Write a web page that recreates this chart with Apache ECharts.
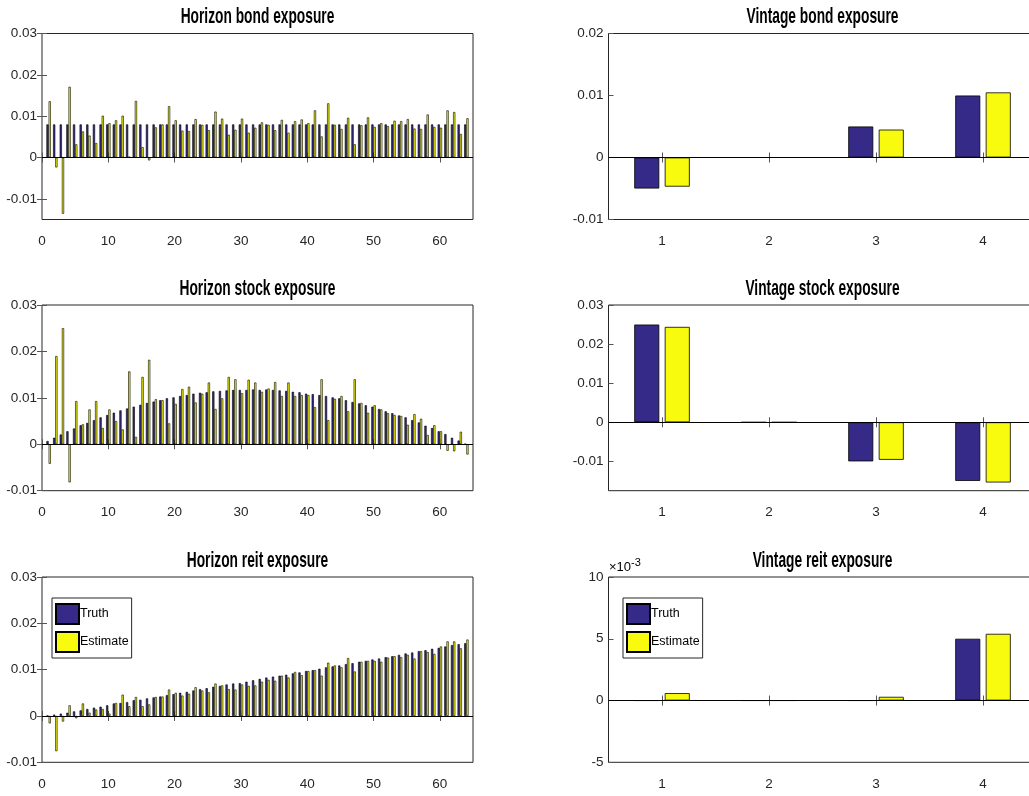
<!DOCTYPE html>
<html><head><meta charset="utf-8">
<script src="https://cdn.jsdelivr.net/npm/echarts@6/dist/echarts.min.js"></script>
<style>html,body{margin:0;padding:0;background:#fff}#c{width:1029px;height:796px}</style>
</head><body><div id="c"></div>
<script>
// ---------------- data ----------------
const horizonIdx = [1,2,3,4,5,6,7,8,9,10,11,12,13,14,15,16,17,18,19,20,21,22,23,24,25,26,27,28,29,30,31,32,33,34,35,36,37,38,39,40,41,42,43,44,45,46,47,48,49,50,51,52,53,54,55,56,57,58,59,60,61,62,63,64];
const horizonTicks = [0,10,20,30,40,50,60];

const bondTruth = [0.008,0.008,0.008,0.008,0.008,0.008,0.008,0.008,0.008,0.008,0.008,0.008,0.008,0.008,0.008,0.008,0.008,0.008,0.008,0.008,0.008,0.008,0.008,0.008,0.008,0.008,0.008,0.008,0.008,0.008,0.008,0.008,0.008,0.008,0.008,0.008,0.008,0.008,0.008,0.008,0.008,0.008,0.008,0.008,0.008,0.008,0.008,0.008,0.008,0.008,0.008,0.008,0.008,0.008,0.008,0.008,0.008,0.008,0.008,0.008,0.008,0.008,0.008,0.008];
const bondEst = [0.0136,-0.0024,-0.0136,0.0171,0.0032,0.0063,0.0053,0.0035,0.0101,0.0083,0.009,0.0101,0.0002,0.0137,0.0025,-0.0007,0.0073,0.008,0.0124,0.009,0.0065,0.0064,0.0093,0.0079,0.0066,0.0111,0.0094,0.0055,0.0067,0.0094,0.006,0.0072,0.0085,0.0079,0.0066,0.0091,0.006,0.0088,0.0092,0.0083,0.0114,0.0051,0.0131,0.0079,0.0069,0.0096,0.0032,0.0078,0.0097,0.0074,0.0083,0.0076,0.0089,0.0088,0.0093,0.007,0.0069,0.0104,0.0074,0.0072,0.0114,0.011,0.0057,0.0095];

const stockTruth = [0.0007,0.0014,0.0021,0.0028,0.0034,0.0041,0.0046,0.0052,0.0058,0.0063,0.0068,0.0073,0.0077,0.0081,0.0085,0.0089,0.0092,0.0095,0.0099,0.0101,0.0104,0.0106,0.0109,0.0111,0.0112,0.0114,0.0115,0.0116,0.0117,0.0117,0.0117,0.0118,0.0117,0.0118,0.0117,0.0116,0.0115,0.0113,0.0112,0.0109,0.0108,0.0106,0.0104,0.0101,0.0099,0.0095,0.0091,0.0088,0.0084,0.0081,0.0076,0.0071,0.0067,0.0062,0.0058,0.0052,0.0047,0.004,0.0035,0.0028,0.0022,0.0014,0.0008,0.0001];
const stockEst = [-0.0042,0.019,0.025,-0.0082,0.0093,0.0043,0.0075,0.0093,0.0035,0.0075,0.005,0.0032,0.0157,0.0016,0.0145,0.0182,0.0097,0.0095,0.0045,0.0087,0.0119,0.0124,0.009,0.0109,0.0133,0.0076,0.0099,0.0145,0.014,0.011,0.0139,0.0133,0.0113,0.012,0.0134,0.0104,0.0133,0.0104,0.0106,0.0106,0.008,0.014,0.0052,0.0098,0.0104,0.0071,0.014,0.0089,0.0068,0.0084,0.0075,0.0067,0.0063,0.0061,0.0042,0.0065,0.0055,0.002,0.0041,0.0028,-0.0014,-0.0015,0.0027,-0.0022];

const reitTruth = [0.0001,0.0003,0.0005,0.0007,0.001,0.0012,0.0015,0.0018,0.002,0.0023,0.0027,0.0028,0.003,0.0034,0.0035,0.0038,0.004,0.0042,0.0045,0.0047,0.005,0.0052,0.0055,0.0058,0.006,0.0063,0.0065,0.0068,0.007,0.0071,0.0074,0.0077,0.008,0.0083,0.0085,0.0087,0.0089,0.0092,0.0094,0.0097,0.0099,0.0102,0.0105,0.0107,0.0109,0.0112,0.0114,0.0117,0.0119,0.0122,0.0124,0.0127,0.0129,0.0132,0.0135,0.0137,0.014,0.0142,0.0145,0.0147,0.015,0.0153,0.0155,0.0157];
const reitEst = [-0.0016,-0.0076,-0.0012,0.0023,-0.0005,0.0027,0.0007,0.0014,0.0015,0.0005,0.0028,0.0046,0.0021,0.0041,0.0021,0.0025,0.0041,0.0042,0.0057,0.005,0.0044,0.0048,0.0062,0.0055,0.0051,0.007,0.0066,0.0058,0.0057,0.0068,0.0065,0.0066,0.0074,0.0078,0.0076,0.0087,0.0083,0.0095,0.0088,0.0097,0.0099,0.0087,0.0115,0.0109,0.0105,0.0125,0.0096,0.0117,0.0119,0.0119,0.0117,0.0126,0.0129,0.0127,0.0132,0.0124,0.014,0.0138,0.0134,0.015,0.0161,0.0161,0.0146,0.0165];

const vintageCats = ['1','2','3','4'];
const vBondTruth = [-0.005, 0, 0.005, 0.01];
const vBondEst = [-0.0047, 0, 0.0045, 0.0105];
const vStockTruth = [0.025, 0, -0.01, -0.015];
const vStockEst = [0.0244, 0, -0.0096, -0.0154];
const vReitTruth = [0, 0, 0, 0.005];
const vReitEst = [0.0006, 0, 0.0003, 0.0054];

const ticksA = [-0.01, 0, 0.01, 0.02, 0.03];
const ticksB = [-0.01, 0, 0.01, 0.02];
const ticksC = [-0.005, 0, 0.005, 0.01];

const titles = ['Horizon bond exposure','Vintage bond exposure','Horizon stock exposure','Vintage stock exposure','Horizon reit exposure','Vintage reit exposure'];
const seriesNames = ['Truth','Estimate'];

// ---------------- style ----------------
const FONT = '"Liberation Sans", Arial, sans-serif';
const C_TRUTH = '#352a87';
const C_EST = '#f9fb0e';
const AX = '#262626';

const rows = [{top:33.5,h:186},{top:305,h:185.7},{top:577,h:185.3}];
const cols = [{left:42,width:431},{left:608.5,width:428}];

const panels = [
  {kind:'h', t:bondTruth, e:bondEst, ymin:-0.015, ymax:0.03, yt:ticksA},
  {kind:'v', t:vBondTruth, e:vBondEst, ymin:-0.01, ymax:0.02, yt:ticksB},
  {kind:'h', t:stockTruth, e:stockEst, ymin:-0.01, ymax:0.03, yt:ticksA},
  {kind:'v', t:vStockTruth, e:vStockEst, ymin:-0.0175, ymax:0.03, yt:ticksA},
  {kind:'h', t:reitTruth, e:reitEst, ymin:-0.01, ymax:0.03, yt:ticksA},
  {kind:'v', t:vReitTruth, e:vReitEst, ymin:-0.005, ymax:0.01, yt:ticksC, milli:true}
];
const titleCenters = [257.5, 822.5];

const grid = [], xAxis = [], yAxis = [], series = [], graphic = [];
const labelStyle = {fontFamily: FONT, fontSize: 13.5, color: AX};
function fmt(v){ if (Math.abs(v) < 1e-12) return '0'; return String(+v.toFixed(4)); }

panels.forEach((p, i) => {
  const r = rows[Math.floor(i/2)], c = cols[i%2];
  grid.push({left:c.left, width:c.width, top:r.top, height:r.h, show:true, borderColor:AX, borderWidth:1,
    backgroundColor:'transparent', containLabel:false, outerBoundsMode:'none'});
  const tickStyle = {show:true, inside:true, length:5, lineStyle:{color:'#555', width:1}};
  if (p.kind === 'h') {
    ['bottom','top'].forEach((pos, k) => xAxis.push({
      type:'value', gridIndex:i, position:pos, min:0, max:65,
      axisLine:{show:false}, splitLine:{show:false},
      axisTick:Object.assign({customValues:horizonTicks}, tickStyle),
      axisLabel:Object.assign({show:k===0, customValues:horizonTicks, margin:15, formatter:v=>String(v)}, labelStyle)
    }));
  } else {
    ['bottom','top'].forEach((pos, k) => xAxis.push({
      type:'category', gridIndex:i, position:pos, data:vintageCats, boundaryGap:true,
      axisLine:{show:false}, splitLine:{show:false},
      axisTick:Object.assign({alignWithLabel:true}, tickStyle),
      axisLabel:Object.assign({show:k===0, margin:15}, labelStyle)
    }));
  }
  ['left','right'].forEach((pos, k) => yAxis.push({
    type:'value', gridIndex:i, position:pos, min:p.ymin, max:p.ymax,
    axisLine:{show:false}, splitLine:{show:false},
    axisTick:Object.assign({customValues:p.yt}, tickStyle),
    axisLabel:Object.assign({show:k===0, customValues:p.yt, margin:5,
      formatter: p.milli ? (v => fmt(v*1000)) : fmt}, labelStyle)
  }));
  const xi = 2*i, yi = 2*i;
  const isH = p.kind === 'h';
  const mk = (vals) => isH ? horizonIdx.map((x, j) => [x, vals[j]]) : vals.slice();
  [[p.t, C_TRUTH, 0], [p.e, C_EST, 1]].forEach(([vals, col, k]) => {
    const s = {
      type:'bar', name:seriesNames[k], xAxisIndex:xi, yAxisIndex:yi, data:mk(vals),
      barWidth: isH ? 2.2 : 25, barGap: isH ? '0%' : '22%',
      itemStyle:{color:col, borderColor:'#000', borderWidth: isH ? 0.6 : 0.8},
      emphasis:{disabled:true}, silent:true
    };
    if (k === 1) {
      s.markLine = {silent:true, symbol:['none','none'], label:{show:false},
        lineStyle:{color:'#000', width:1, type:'solid'}, data:[{yAxis:0}], animation:false};
    }
    series.push(s);
  });
  graphic.push({type:'text', x:titleCenters[i%2], y:r.top - 16, scaleX:0.64, z:100,
    style:{text:titles[i], font:'bold 21.5px "Liberation Sans", Arial, sans-serif', fill:'#000', textAlign:'center', textVerticalAlign:'middle'}});
});

// exponent label for the vintage reit axis
graphic.push({type:'text', x:609, y:567, z:100, style:{
  text:'{a|\u00d710}{b|-3}',
  rich:{a:{fontFamily:FONT, fontSize:13, color:AX}, b:{fontFamily:FONT, fontSize:11, color:AX, padding:[0,0,9,0]}},
  textVerticalAlign:'middle'}});

const legendBase = {orient:'vertical', data:seriesNames, itemWidth:23, itemHeight:20, itemGap:6,
  padding:[5,3,5,3], borderColor:AX, borderWidth:1, backgroundColor:'#fff', selectedMode:false,
  icon:'rect', textStyle:{fontFamily:FONT, fontSize:12.5, color:'#000', padding:[0,0,0,-4]}};
const legend = [
  Object.assign({left:52, top:598}, legendBase),
  Object.assign({left:623, top:598}, legendBase)
];

const chart = echarts.init(document.getElementById('c'), null, {renderer:'canvas'});
chart.setOption({animation:false, backgroundColor:'#fff', grid, xAxis, yAxis, series, legend, graphic});
</script></body></html>
